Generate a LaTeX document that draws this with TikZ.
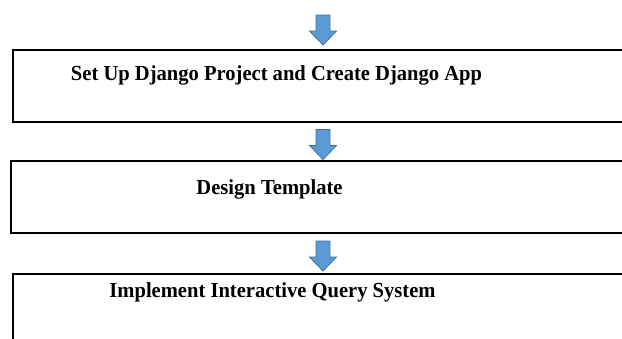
\documentclass[tikz,border=0pt]{standalone}
\usepackage{fontspec}
\usepackage{graphicx}
\setmainfont{Liberation Serif}
\definecolor{arrowblue}{HTML}{5B9BD5}
\definecolor{arrowedge}{HTML}{41719C}
\newcommand{\steptext}[1]{\scalebox{0.96}[1]{#1}}
\begin{document}
\begin{tikzpicture}[x=1bp,y=-1bp,
  stepbox/.style={draw=black,line width=1.3bp,anchor=north west,inner sep=0,outer sep=0},
  flow/.style={fill=arrowblue,draw=arrowedge,line width=0.8bp,line join=miter},
  lbl/.style={font=\bfseries\fontsize{21.5}{25}\selectfont,inner sep=0,anchor=base},
  downarrow/.pic={\draw[flow] (-7,0) -- (7,0) -- (7,16) -- (13.5,16) -- (0,30) -- (-13.5,16) -- (-7,16) -- cycle;}]
\useasboundingbox (0,0) rectangle (622,338);
\clip (0,0) rectangle (622,338);
\node[stepbox,minimum width=627bp,minimum height=72bp] (b1) at (13,50) {};
\node[stepbox,minimum width=629bp,minimum height=72bp] (b2) at (11,161) {};
\node[stepbox,minimum width=627bp,minimum height=90bp] (b3) at (13,274) {};
\node[lbl] (t1) at (276.5,80.5) {\steptext{Set Up Django Project and Create Django App}};
\node[lbl] (t2) at (269.5,194) {\steptext{Design Template}};
\node[lbl] (t3) at (272.5,297.5) {\steptext{Implement Interactive Query System}};
\pic at (323,15) {downarrow};
\pic at (323,129.5) {downarrow};
\pic at (323,241) {downarrow};
\end{tikzpicture}
\end{document}
